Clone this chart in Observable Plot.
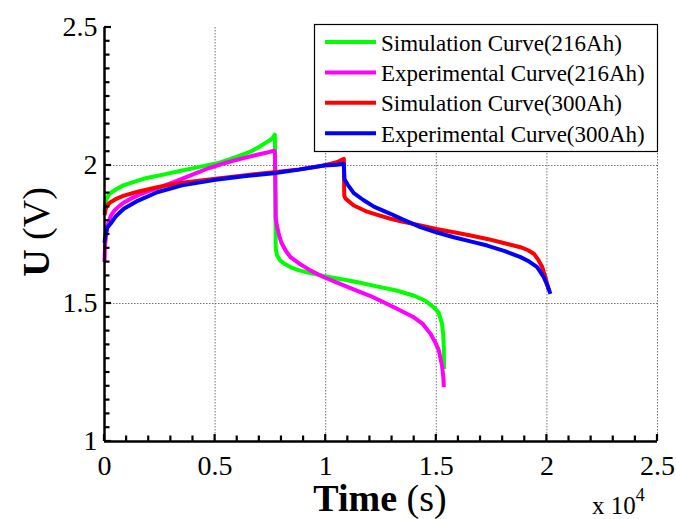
<!DOCTYPE html>
<html><head><meta charset="utf-8">
<script src="https://cdn.jsdelivr.net/npm/d3@7"></script>
<script src="https://cdn.jsdelivr.net/npm/@observablehq/plot@0.6"></script>
<style>body{margin:0;background:#fff}#chart svg{display:block}</style>
</head><body><div id="chart"></div>
<script>
// ---- data (time in s, voltage in V) ----
const sim216T = [0,30,100,200,350,550,850,1300,1900,2600,3400,4300,5200,6000,6600,7000,7300,7500,7620,7700,7720,7740,7800,7950,8150,8400,8800,9200,9900,10600,11400,12300,13200,14000,14500,14900,15100,15250,15310,15340,15350];
const sim216V = [1.83,1.86,1.88,1.895,1.905,1.915,1.928,1.94,1.955,1.966,1.98,1.995,2.01,2.032,2.05,2.068,2.083,2.092,2.102,2.112,2.0,1.70,1.675,1.655,1.643,1.632,1.62,1.612,1.600,1.590,1.578,1.562,1.547,1.528,1.51,1.485,1.468,1.43,1.39,1.34,1.263];

const exp216T = [0,20,60,120,200,300,450,650,900,1200,1600,2100,2700,3300,4000,4700,5400,6100,6800,7300,7650,7700,7720,7740,7800,7900,8000,8200,8409,8800,9300,9900,10600,11400,12000,12477,13200,13983,14400,14738,14950,15113,15220,15266,15320,15340];
const exp216V = [1.65,1.70,1.745,1.775,1.80,1.82,1.837,1.852,1.867,1.88,1.895,1.91,1.927,1.945,1.968,1.99,2.008,2.023,2.037,2.046,2.054,2.05,1.95,1.81,1.78,1.745,1.72,1.69,1.668,1.645,1.62,1.596,1.573,1.547,1.528,1.51,1.482,1.45,1.425,1.39,1.36,1.33,1.29,1.27,1.23,1.197];

const sim300T = [0,60,150,271,500,874,1500,2380,3500,5018,6300,7654,8800,9915,10500,10820,10840,10900,11270,11800,12300,12930,13500,14285,15000,15790,16500,17300,18000,18807,19150,19410,19600,19787,19950,20087];
const sim300V = [1.82,1.845,1.858,1.867,1.878,1.891,1.905,1.921,1.938,1.952,1.964,1.976,1.986,2.0,2.012,2.024,1.89,1.88,1.855,1.835,1.822,1.807,1.796,1.783,1.77,1.758,1.747,1.734,1.72,1.704,1.693,1.68,1.66,1.632,1.59,1.547];

const exp300T = [0,50,130,271,500,874,1500,2380,3500,5018,6300,7654,8800,9915,10500,10820,10850,11000,11270,11700,12200,12930,13500,14285,15000,15790,16500,17300,18100,18807,19200,19560,19860,20050,20160];
const exp300V = [1.72,1.75,1.775,1.789,1.815,1.843,1.872,1.903,1.928,1.948,1.961,1.972,1.985,2.0,2.003,2.006,1.95,1.93,1.9,1.875,1.85,1.825,1.804,1.777,1.758,1.74,1.726,1.71,1.69,1.668,1.652,1.632,1.595,1.56,1.535];

const seriesNames = ["Simulation Curve(216Ah)","Experimental Curve(216Ah)","Simulation Curve(300Ah)","Experimental Curve(300Ah)"];
const seriesColors = ["#00ff00","#ff00ff","#ff0000","#0000ff"];

const xMajorTicks = [0,5000,10000,15000,20000,25000];
const xTickLabels = ["0","0.5","1","1.5","2","2.5"];
const yMajorTicks = [1,1.5,2,2.5];
const yTickLabels = ["1","1.5","2","2.5"];
const xMinorTicks = d3.range(0,26).map(i => i*1000);
const yMinorTicks = d3.range(0,31).map(i => +(1 + i*0.05).toFixed(2));

const seriesT = [sim216T, exp216T, sim300T, exp300T];
const seriesV = [sim216V, exp216V, sim300V, exp300V];
const rows = seriesNames.flatMap((name, s) => seriesT[s].map((t, i) => ({series: name, t, v: seriesV[s][i]})));

const FONT = "'Liberation Serif','Times New Roman',serif";

const chart = Plot.plot({
  width: 676, height: 519,
  marginLeft: 104, marginRight: 19, marginTop: 27, marginBottom: 78,
  style: {fontFamily: FONT, color: "#000", background: "#fff", overflow: "visible"},
  x: {domain: [0, 25000]},
  y: {domain: [1, 2.5]},
  color: {domain: seriesNames, range: seriesColors},
  marks: [
    Plot.gridX({ticks: xMajorTicks.slice(1), stroke: "#666", strokeOpacity: 0.9, strokeWidth: 1, strokeDasharray: "1.5,1.5"}),
    Plot.gridY({ticks: [1.5, 2], stroke: "#666", strokeOpacity: 0.9, strokeWidth: 1, strokeDasharray: "1.5,1.5"}),
    Plot.line(rows, {x: "t", y: "v", z: "series", stroke: "series", strokeWidth: 4, strokeLinejoin: "round", strokeLinecap: "butt"}),
    Plot.axisX({ticks: xMajorTicks, tickFormat: d => xTickLabels[xMajorTicks.indexOf(d)], tickSize: 0, tickPadding: 14, fontSize: 28, fontFamily: FONT, label: null}),
    Plot.axisY({ticks: yMajorTicks, tickFormat: d => yTickLabels[yMajorTicks.indexOf(d)], tickSize: 0, tickPadding: 7, fontSize: 28, fontFamily: FONT, label: null}),
    Plot.ruleX([0], {strokeWidth: 2.5}),
    Plot.ruleY([1], {strokeWidth: 2.5})
  ]
});

const svg = d3.select(chart);
const sx = chart.scale("x"), sy = chart.scale("y");
const X0 = sx.apply(0), Y0 = sy.apply(1);

// inward tick marks (positions from Plot's scales)
const tk = svg.append("g").attr("class", "inward-ticks");
xMinorTicks.forEach(t => {
  const X = sx.apply(t), L = xMajorTicks.includes(t) ? 7 : 5.5;
  tk.append("rect").attr("x", X - 1.1).attr("y", Y0 - L).attr("width", 2.2).attr("height", L).attr("fill", "#000");
});
yMinorTicks.forEach(v => {
  const Y = sy.apply(v), L = yMajorTicks.includes(v) ? 7 : 5.5;
  tk.append("rect").attr("x", X0).attr("y", Y - 1.1).attr("width", L).attr("height", 2.2).attr("fill", "#000");
});

// Axis titles
const yt = svg.append("text")
  .attr("transform", "translate(49,232) rotate(-90)")
  .attr("text-anchor", "middle")
  .style("font-family", FONT).style("font-size", "38px").attr("fill", "#000");
yt.append("tspan").attr("font-weight", "bold").text("U");
yt.append("tspan").text(" (V)");

const xt = svg.append("text")
  .attr("x", 380).attr("y", 511)
  .attr("text-anchor", "middle")
  .style("font-family", FONT).style("font-size", "38px").attr("fill", "#000");
xt.append("tspan").attr("font-weight", "bold").text("Time");
xt.append("tspan").text(" (s)");

const ex = svg.append("text")
  .attr("x", 592).attr("y", 514)
  .attr("text-anchor", "start")
  .style("font-family", FONT).style("font-size", "25px").attr("fill", "#000");
ex.append("tspan").text("x 10");
ex.append("tspan").attr("dy", -13).style("font-size", "18px").text("4");

// Legend
const lg = svg.append("g").attr("text-anchor", "start");
lg.append("rect").attr("x", 314.5).attr("y", 24.5).attr("width", 343).attr("height", 127)
  .attr("fill", "#fff").attr("stroke", "#000").attr("stroke-width", 1.2);
seriesNames.forEach((name, i) => {
  const y = 42 + i * 30.4;
  lg.append("line").attr("x1", 325).attr("x2", 376).attr("y1", y).attr("y2", y)
    .attr("stroke", seriesColors[i]).attr("stroke-width", 4);
  lg.append("text").attr("x", 381).attr("y", y + 8.5).attr("text-anchor", "start")
    .style("font-family", FONT).style("font-size", "23px").attr("fill", "#000").text(name);
});

document.getElementById("chart").append(chart);
</script>
</body></html>
